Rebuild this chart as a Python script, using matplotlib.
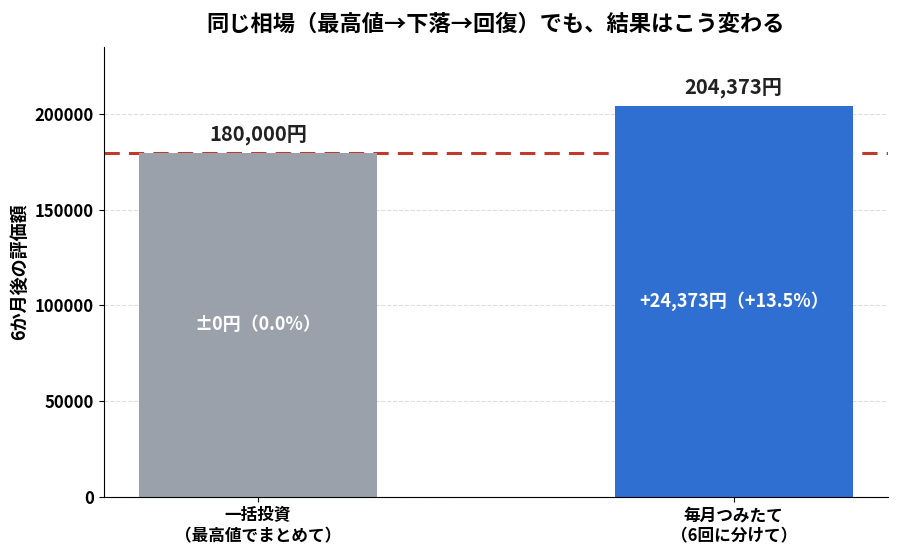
import matplotlib
matplotlib.use("Agg")
import matplotlib.pyplot as plt

plt.rcParams['font.family'] = ['Noto Sans CJK JP', 'DejaVu Sans']

# data
categories = ['一括投資\n（最高値でまとめて）', '毎月つみたて\n（6回に分けて）']
values = [180000, 204373]
top_labels = ['180,000円', '204,373円']
inner_labels = ['±0円（0.0%）', '+24,373円（+13.5%）']
colors = ['#9aa1ab', '#2f6fd1']
baseline = 180000

fig, ax = plt.subplots(figsize=(9, 5.58), dpi=100)

ax.axhline(baseline, color='#c0392b', linestyle='--', linewidth=2.2, dashes=(5, 3), zorder=1)
bars = ax.bar(range(len(values)), values, width=0.5, color=colors, zorder=2)

for i, v in enumerate(values):
    ax.text(i, v + 4000, top_labels[i], ha='center', va='bottom',
            fontsize=14.5, fontweight='bold', color='#222222')
    ax.text(i, v / 2, inner_labels[i], ha='center', va='center',
            fontsize=13, fontweight='bold', color='white')

ax.set_xticks(range(len(values)))
ax.set_xticklabels(categories, fontsize=12, fontweight='bold')
for lab in ax.get_yticklabels():
    lab.set_fontweight('bold')
ax.tick_params(axis='y', labelsize=12)
ax.set_ylim(0, max(values) * 1.15)
ax.set_ylabel('6か月後の評価額', fontsize=13, fontweight='bold')
ax.set_title('同じ相場（最高値→下落→回復）でも、結果はこう変わる',
             fontsize=16, fontweight='bold', pad=12)

ax.grid(axis='y', linestyle='--', color='#dddddd', linewidth=0.8, zorder=0)
ax.set_axisbelow(True)
ax.spines['top'].set_visible(False)
ax.spines['right'].set_visible(False)

plt.subplots_adjust(left=0.115, right=0.987, top=0.915, bottom=0.11)
plt.savefig('out.png', dpi=100)
